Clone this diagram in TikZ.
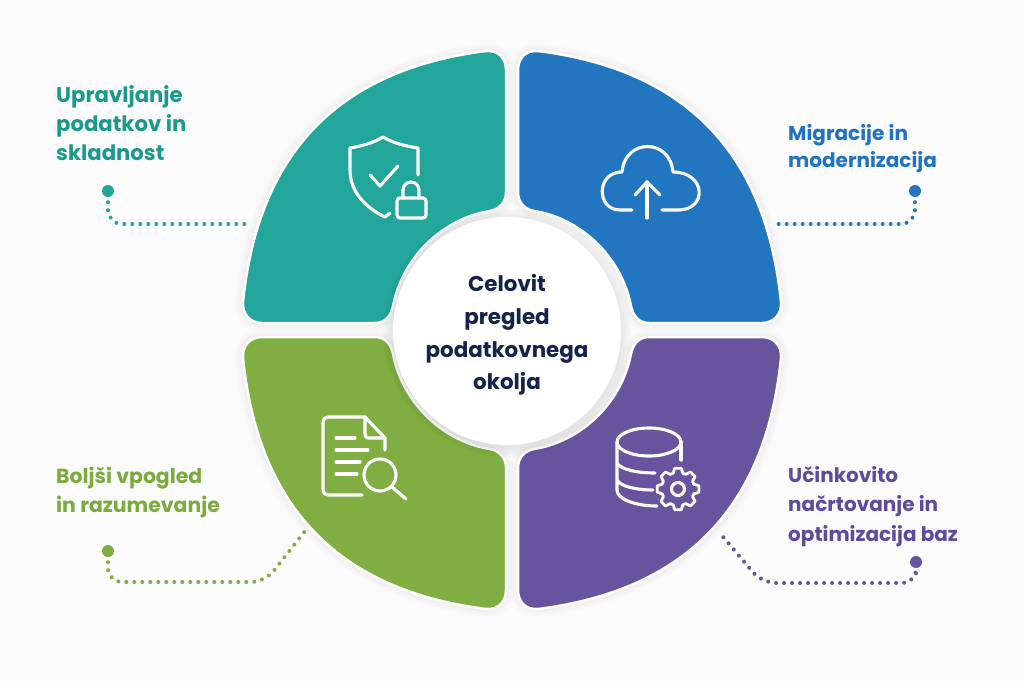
\documentclass[tikz,border=0pt]{standalone}
\usepackage{fontspec}
\setmainfont{Poppins}
\usetikzlibrary{calc}
\definecolor{bgc}{HTML}{FBFBFB}
\definecolor{teal1}{HTML}{22A59B}
\definecolor{blue1}{HTML}{2276BF}
\definecolor{green1}{HTML}{80AE42}
\definecolor{purple1}{HTML}{67539E}
\definecolor{tealT}{HTML}{1A9A8E}
\definecolor{blueT}{HTML}{1F72C4}
\definecolor{greenT}{HTML}{7BAB3C}
\definecolor{purpleT}{HTML}{5F4A9C}
\definecolor{navy}{HTML}{14234A}
\def\segpath{(262,323) -- (375,323) .. controls (385,323) and (391,316) .. (393,306)
  .. controls (403,255) and (445,218) .. (490,211)
  .. controls (500,209) and (506,202) .. (506,192) -- (506,70)
  .. controls (506,58) and (498,50) .. (486,51)
  .. controls (336,70) and (258,155) .. (243,302)
  .. controls (242,314) and (250,323) .. (262,323) -- cycle}
\tikzset{
  x=1pt,y=-1pt,
  segfill/.style={fill=#1,draw=white,line width=2.5pt},
  softshadow/.style={draw=black,fill=black,opacity=0.012,line width=#1,line join=round},
  ico/.style={draw=white,line width=3.1pt,line cap=round,line join=round},
  label/.style={anchor=north west,inner sep=0pt,align=left,text=#1},
  dotline/.style={draw=#1,line width=4pt,line cap=round,dash pattern=on 0pt off 8pt,rounded corners=14pt,shorten <=5pt},
  enddot/.style={circle,fill=#1,inner sep=0pt,minimum size=12pt},
  hub/.style={circle,fill=white,inner sep=0pt,minimum size=#1},
}
\begin{document}
\begin{tikzpicture}
\useasboundingbox (0,0) rectangle (1024,682);
\fill[bgc] (0,0) rectangle (1024,682);
% segments
\begin{scope}
  \foreach \w in {16,12,8,5}{\path[softshadow=\w pt] \segpath;}
  \path[segfill=teal1] \segpath;
\end{scope}
\begin{scope}[xshift=1024pt,xscale=-1]
  \foreach \w in {16,12,8,5}{\path[softshadow=\w pt] \segpath;}
  \path[segfill=blue1] \segpath;
\end{scope}
\begin{scope}[yshift=-660pt,yscale=-1]
  \foreach \w in {16,12,8,5}{\path[softshadow=\w pt] \segpath;}
  \path[segfill=green1] \segpath;
\end{scope}
\begin{scope}[xshift=1024pt,xscale=-1,yshift=-660pt,yscale=-1]
  \foreach \w in {16,12,8,5}{\path[softshadow=\w pt] \segpath;}
  \path[segfill=purple1] \segpath;
\end{scope}
% hub
\foreach \d in {248,244,240,236,232}{\node[hub=\d pt,fill=black,opacity=0.016] (hs\d) at (507,333) {};}
\node[hub=228pt] (hub) at (507,331) {};
\node[inner sep=0pt,align=center,text=navy,font=\fontsize{21.4}{32.6}\selectfont\bfseries] (hubtext) at (507,335)
  {Celovit\\pregled\\podatkovnega\\okolja};
% shield icon
\draw[ico] (418,175) -- (418,148) .. controls (405,146) and (393,143) .. (383,137)
  .. controls (373,143) and (362,146) .. (350,148) -- (350,170)
  .. controls (350,192) and (366,208) .. (385,217) -- (390,213);
\draw[ico] (370,175) -- (380,186) -- (398,166);
\draw[ico,rounded corners=3pt] (397,198) rectangle (426,218);
\draw[ico] (403,198) -- (403,190) arc[start angle=180,end angle=360,radius=8] -- (419,198);
% cloud icon
\draw[ico] (632,210) -- (620,210) .. controls (596,210) and (596,172) .. (622,172)
  .. controls (625,138) and (670,138) .. (673,172)
  .. controls (706,172) and (708,210) .. (678,210) -- (662,210);
\draw[ico] (647,218) -- (647,182);
\draw[ico] (635,195) -- (647,182) -- (660,195);
% document icon
\draw[ico] (385,450) -- (385,438) -- (365,417) -- (328,417)
  .. controls (325,417) and (323,419) .. (323,422) -- (323,490)
  .. controls (323,493) and (325,495) .. (328,495) -- (362,495);
\draw[ico] (365,417) -- (365,434) .. controls (365,436) and (366,438) .. (368,438) -- (385,438);
\draw[ico] (336,438) -- (355,438) (336,450) -- (368,450) (336,462) -- (360,462) (336,474) -- (357,474);
\draw[ico] (380,475) circle[radius=16];
\draw[ico] (392,487) -- (406,499);
% database icon
\draw[ico] (649,442) ellipse[x radius=32,y radius=14];
\draw[ico] (617,442) -- (617,490) .. controls (617,499) and (635,506) .. (657,506);
\draw[ico] (681,442) -- (681,460);
\draw[ico] (617,463) .. controls (620,469) and (636,473) .. (655,473);
\draw[ico] (617,480) .. controls (620,486) and (635,490) .. (653,490);
\begin{scope}[shift={(678,489)}]
  \draw[ico,line width=2.8pt] (0:21) \foreach \a in {0,45,...,315}{
      -- (\a+9:21) -- (\a+17:16.5) -- (\a+28:16.5) -- (\a+36:21)} -- cycle;
  \draw[ico] (0,0) circle[radius=6.5];
\end{scope}
% labels
\node[label=tealT,font=\fontsize{21.2}{29}\selectfont\bfseries] (l1) at (56,85.5) {Upravljanje\\podatkov in\\skladnost};
\node[label=blueT,font=\fontsize{20}{27.5}\selectfont\bfseries] (l2) at (788,124) {Migracije in\\modernizacija};
\node[label=greenT,font=\fontsize{20.4}{29}\selectfont\bfseries] (l3) at (56,467) {Boljši vpogled\\in razumevanje};
\node[label=purpleT,font=\fontsize{20}{29.5}\selectfont\bfseries] (l4) at (788,466) {Učinkovito\\načrtovanje in\\optimizacija baz};
% connectors
\node[enddot=teal1] (d1) at (108,191) {};
\coordinate (e1) at (250,224);
\draw[dotline=teal1] (d1) |- (e1);
\node[enddot=blue1] (d2) at (915,191) {};
\coordinate (e2) at (774,224);
\draw[dotline=blue1] (d2) |- (e2);
\node[enddot=green1] (d3) at (108,551) {};
\coordinate (k3) at (265,582);
\coordinate (e3) at (305,531);
\draw[dotline=green1] (d3) |- (k3) -- (e3);
\node[enddot=purple1] (d4) at (916,562) {};
\coordinate (k4) at (762,583);
\coordinate (e4) at (719,532);
\draw[dotline=purple1] (d4) |- (k4) -- (e4);
\end{tikzpicture}
\end{document}
